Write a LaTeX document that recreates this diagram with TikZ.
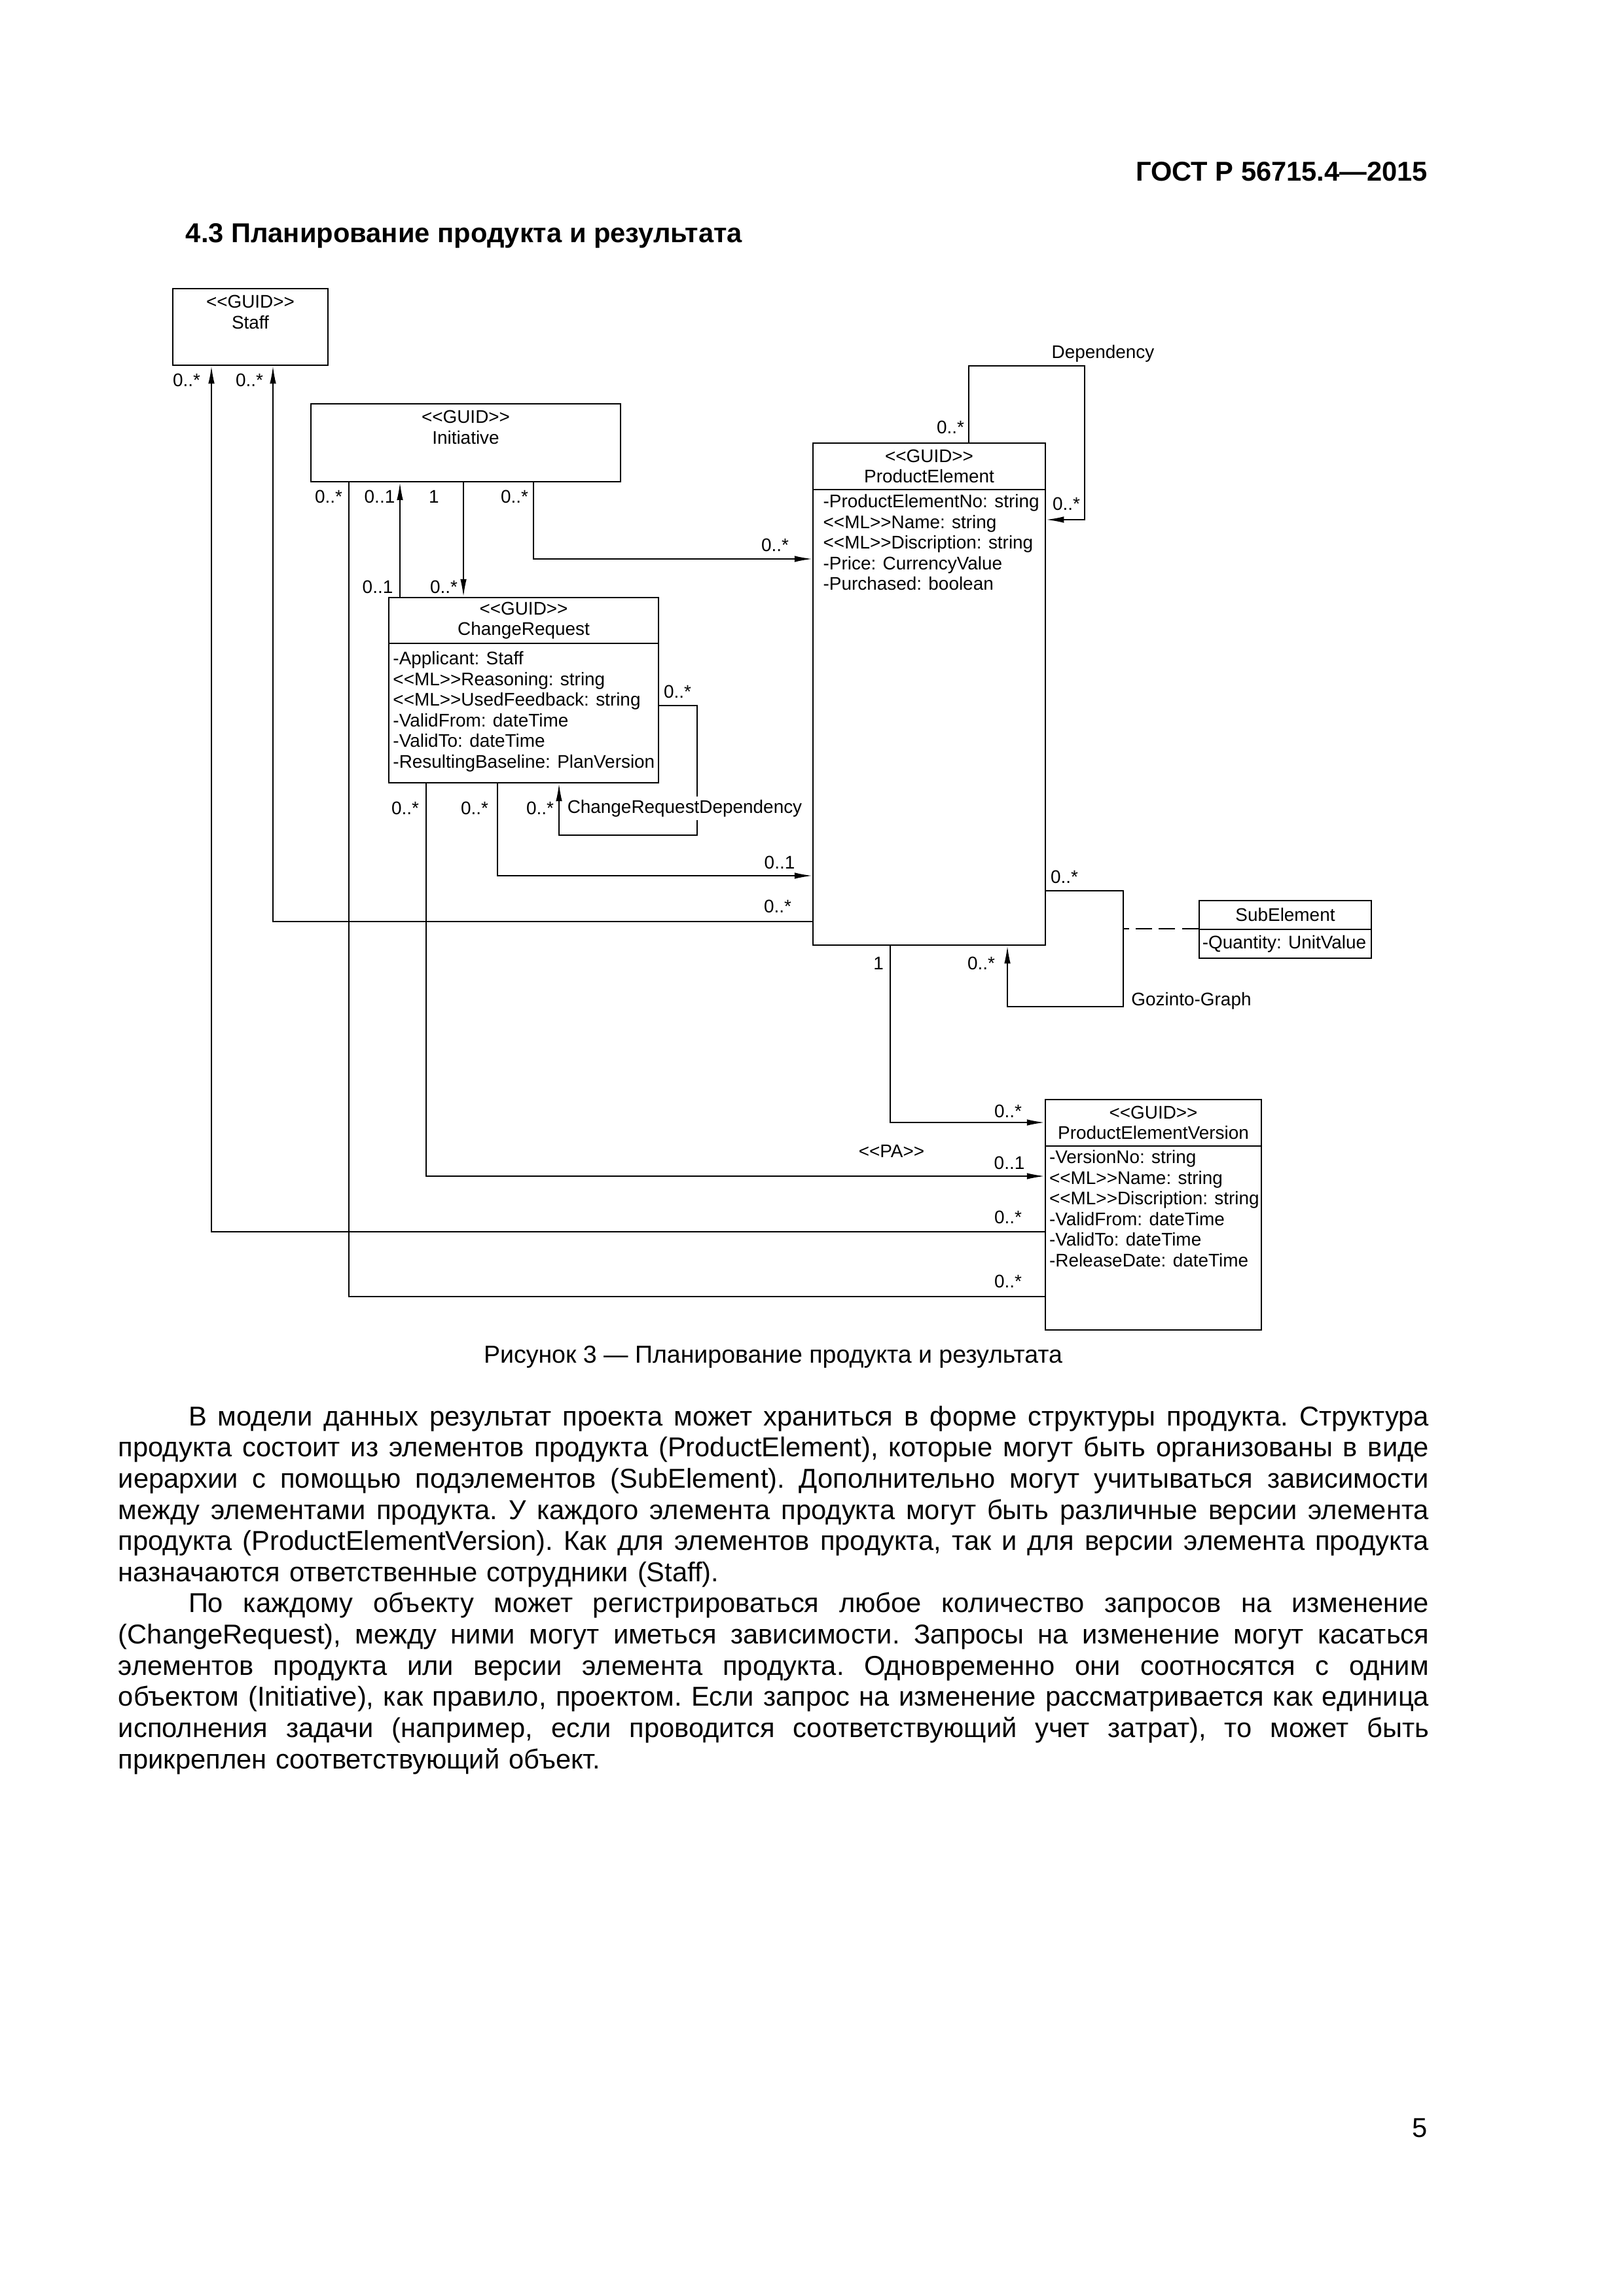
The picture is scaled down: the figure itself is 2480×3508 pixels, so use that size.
\documentclass[tikz,border=0pt]{standalone}
\usepackage{fontspec}
\setmainfont{Liberation Sans}
\usetikzlibrary{positioning, fit, arrows.meta}

\newcommand\umlfont{\fontsize{6.7}{7.56}\selectfont}
\newcommand\guid{<{}<GUID>{}>}
\newcommand\ml{<{}<ML>{}>}
\newlength\bodyw
\setlength\bodyw{480.5pt}
\newlength\parind
\setlength\parind{25.7pt}
\newcommand\bodyspace{\frenchspacing\spaceskip=2.78pt plus 4pt minus 0.9pt\relax}
\newcommand\fullline[1]{\leavevmode\hbox to\bodyw{\bodyspace #1}}
\newcommand\indline[1]{\leavevmode\hbox to\bodyw{\bodyspace\hspace*{\parind}#1}}

\begin{document}
\begin{tikzpicture}[x=0.24pt,y=-0.24pt,>={Latex[length=6.5pt,width=2.3pt]},
        line width=0.45pt,
        cls/.style={draw,line width=0.55pt,inner sep=0pt},
        clstext/.style={inner sep=1pt,font=\umlfont,align=center},
        attr/.style={inner sep=0pt,font=\umlfont,align=left,anchor=north west},
        mult/.style={inner sep=0pt,font=\umlfont},
        assocname/.style={inner sep=1.2pt,font=\umlfont},
        dashline/.style={dash pattern=on 6pt off 2.5pt},
        page/.style={inner sep=0pt,font=\fontsize{10}{12}\selectfont},
        body/.style={inner sep=0pt,align=left,text width=\bodyw,font=\fontsize{10}{11.43}\selectfont}]

    \useasboundingbox (0,0) rectangle (2480,3508);

    % page head
    \node[page, font=\fontsize{10}{12}\selectfont\bfseries, anchor=base east] (gost) at (2182,277) {ГОСТ Р 56715.4—2015};
    \node[page, font=\fontsize{10}{12}\selectfont\bfseries, anchor=base west] (title) at (283,371) {4.3 Планирование продукта и результата};

    % classes
    \node[cls, fit={(264,441) (501,558)}] (staff) {};
    \node[clstext, below=1.5pt of staff.north] (staff-t) {\guid\\Staff};

    \node[cls, fit={(475,617) (948,736)}] (ini) {};
    \node[clstext, below=1.5pt of ini.north] (ini-t) {\guid\\Initiative};

    \node[cls, fit={(594,913) (1006,983)}] (cr) {};
    \node[clstext] (cr-h) at (cr.center) {\guid\\ChangeRequest};
    \node[cls, fit={(594,983) (1006,1196)}] (cr-a) {};
    \node[attr] (cr-t) at ([xshift=1.6pt,yshift=-3pt]cr-a.north west)
        {-Applicant: Staff\\\ml Reasoning: string\\\ml UsedFeedback: string\\-ValidFrom: dateTime\\-ValidTo: dateTime\\-ResultingBaseline: PlanVersion};

    \node[cls, fit={(1242,677) (1597,748)}] (pe) {};
    \node[clstext] (pe-h) at (pe.center) {\guid\\ProductElement};
    \node[cls, fit={(1242,748) (1597,1444)}] (pe-a) {};
    \node[attr] (pe-t) at ([xshift=3.8pt,yshift=-1.9pt]pe-a.north west)
        {-ProductElementNo: string\\\ml Name: string\\\ml Discription: string\\-Price: CurrencyValue\\-Purchased: boolean};

    \node[cls, fit={(1832,1376) (2095,1420)}] (sub) {};
    \node[clstext] (sub-h) at (sub.center) {SubElement};
    \node[cls, fit={(1832,1420) (2095,1464)}] (sub-a) {};
    \node[attr, anchor=west] (sub-t) at ([xshift=1.2pt]sub-a.west) {-Quantity: UnitValue};

    \node[cls, fit={(1597,1680) (1927,1751)}] (pev) {};
    \node[clstext] (pev-h) at (pev.center) {\guid\\ProductElementVersion};
    \node[cls, fit={(1597,1751) (1927,2032)}] (pev-a) {};
    \node[attr] (pev-t) at ([xshift=1.5pt,yshift=-1.6pt]pev-a.north west)
        {-VersionNo: string\\\ml Name: string\\\ml Discription: string\\-ValidFrom: dateTime\\-ValidTo: dateTime\\-ReleaseDate: dateTime};

    % bends of the connectors
    \coordinate (c-staff1) at (323,1882);
    \coordinate (c-staff2) at (417,1408);
    \coordinate (c-ini1) at (533,1981);
    \coordinate (c-ini2) at (611,800);
    \coordinate (c-ini3) at (708,800);
    \coordinate (c-ini4) at (815,854);
    \coordinate (c-cr1) at (1065,1078);
    \coordinate (c-cr2) at (854,1276);
    \coordinate (c-cr3) at (760,1338);
    \coordinate (c-cr4) at (651,1797);
    \coordinate (c-dep1) at (1480,559);
    \coordinate (c-dep2) at (1657,794);
    \coordinate (c-goz1) at (1716,1361);
    \coordinate (c-goz2) at (1539,1538);
    \coordinate (c-pe1) at (1360,1715);

    % connectors
    \draw[->] (pev-a.west |- c-staff1) -| (staff.south -| c-staff1);
    \draw[->] (pe-a.west |- c-staff2) -| (staff.south -| c-staff2);
    \draw (ini.south -| c-ini1) |- (pev-a.west |- c-ini1);
    \draw[->] (cr.north -| c-ini2) -- (ini.south -| c-ini2);
    \draw[->] (ini.south -| c-ini3) -- (cr.north -| c-ini3);
    \draw[->] (ini.south -| c-ini4) |- (pe-a.west |- c-ini4);
    \draw[->] (cr-a.east |- c-cr1) -- (c-cr1) |- (c-cr2) -- (cr-a.south -| c-cr2);
    \draw[->] (cr-a.south -| c-cr3) |- (pe-a.west |- c-cr3);
    \draw[->] (cr-a.south -| c-cr4) |- (pev-a.west |- c-cr4);
    \draw[->] (pe.north -| c-dep1) -- (c-dep1) -| (c-dep2) -- (pe-a.east |- c-dep2);
    \draw[->] (pe-a.east |- c-goz1) -- (c-goz1) |- (c-goz2) -- (pe-a.south -| c-goz2);
    \draw[dashline] (sub-a.north west) -- (sub-a.north west -| c-goz1);
    \draw[->] (pe-a.south -| c-pe1) |- (pev.west |- c-pe1);

    % multiplicities and names
    \node[mult] (m-staff1) at (285,581) {0..*};
    \node[mult] (m-staff2) at (381,581) {0..*};
    \node[mult] (m-ini1) at (502,759) {0..*};
    \node[mult] (m-ini2) at (580,759) {0..1};
    \node[mult] (m-ini3) at (663,759) {1};
    \node[mult] (m-ini4) at (786,759) {0..*};
    \node[mult] (m-cr1) at (577,897) {0..1};
    \node[mult] (m-cr2) at (678,897) {0..*};
    \node[mult] (m-pe1) at (1184,833) {0..*};
    \node[mult] (m-dep1) at (1452,653) {0..*};
    \node[mult] (m-dep2) at (1629,770) {0..*};
    \node[assocname] (n-dep) at (1685,540) {Dependency};
    \node[mult] (m-crl1) at (1035,1057) {0..*};
    \node[mult] (m-crl2) at (825,1235) {0..*};
    \node[assocname, fill=white] (n-crl) at (1046,1235) {ChangeRequestDependency};
    \node[mult] (m-cr3) at (619,1235) {0..*};
    \node[mult] (m-cr4) at (725,1235) {0..*};
    \node[mult] (m-pe2) at (1191,1318) {0..1};
    \node[mult] (m-pe3) at (1188,1385) {0..*};
    \node[mult] (m-goz1) at (1626,1340) {0..*};
    \node[mult] (m-goz2) at (1499,1472) {0..*};
    \node[assocname] (n-goz) at (1820,1529) {Gozinto-Graph};
    \node[mult] (m-pe4) at (1342,1472) {1};
    \node[mult] (m-pev1) at (1540,1698) {0..*};
    \node[assocname] (n-pa) at (1362,1759) {<{}<PA>{}>};
    \node[mult] (m-pev2) at (1542,1777) {0..1};
    \node[mult] (m-pev3) at (1540,1860) {0..*};
    \node[mult] (m-pev4) at (1540,1958) {0..*};

    % caption and text
    \node[page, font=\fontsize{9}{11}\selectfont, anchor=base] (caption) at (1181,2082) {Рисунок 3 — Планирование продукта и результата};
    \node[body, anchor=north west] (text) at (180,2147) {\noindent
        \indline{В модели данных результат проекта может храниться в форме структуры продукта. Структура}\\
        \fullline{продукта состоит из элементов продукта (ProductElement), которые могут быть организованы в виде}\\
        \fullline{иерархии с помощью подэлементов (SubElement). Дополнительно могут учитываться зависимости}\\
        \fullline{между элементами продукта. У каждого элемента продукта могут быть различные версии элемента}\\
        \fullline{продукта (ProductElementVersion). Как для элементов продукта, так и для версии элемента продукта}\\
        назначаются ответственные сотрудники (Staff).\\
        \indline{По каждому объекту может регистрироваться любое количество запросов на изменение}\\
        \fullline{(ChangeRequest), между ними могут иметься зависимости. Запросы на изменение могут касаться}\\
        \fullline{элементов продукта или версии элемента продукта. Одновременно они соотносятся с одним}\\
        \fullline{объектом (Initiative), как правило, проектом. Если запрос на изменение рассматривается как единица}\\
        \fullline{исполнения задачи (например, если проводится соответствующий учет затрат), то может быть}\\
        прикреплен соответствующий объект.};
    \node[page, anchor=base east] (pagenum) at (2182,3265) {5};
\end{tikzpicture}
\end{document}
